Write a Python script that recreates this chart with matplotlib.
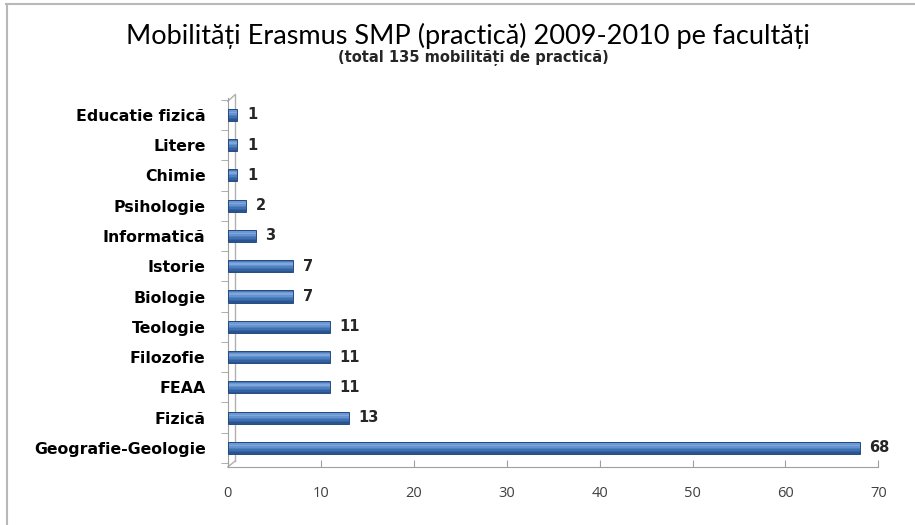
# Mobilitati Erasmus SMP (practica) 2009-2010 pe facultati
import matplotlib.pyplot as plt
from matplotlib.lines import Line2D
import numpy as np

facultati = ['Geografie-Geologie', 'Fizică', 'FEAA', 'Filozofie', 'Teologie',
             'Biologie', 'Istorie', 'Informatică', 'Psihologie', 'Chimie',
             'Litere', 'Educatie fizică']
mobilitati = [68, 13, 11, 11, 11, 7, 7, 3, 2, 1, 1, 1]
x_ticks = [0, 10, 20, 30, 40, 50, 60, 70]

fig = plt.figure(figsize=(9.15, 5.25), dpi=100)
ax = fig.add_axes([0.249, 0.1105, 0.711, 0.7025])

pos = np.arange(len(facultati))
bar_h = 0.4
# gradient bars (light at top, dark at bottom) for the cylinder look
grad = ['#2a5391', '#34619f', '#3f70b0', '#4f80c0', '#6693d0', '#7fa7dc', '#6b98d2', '#4a7bbd']
n = len(grad)
for i, c in enumerate(grad):
    ax.barh(pos - bar_h / 2 + (i + 0.5) * bar_h / n, mobilitati, height=bar_h / n,
            color=c, linewidth=0, zorder=3)
ax.barh(pos, mobilitati, height=bar_h, fill=False, edgecolor='#244a80', linewidth=0.7, zorder=4)

for p, v in zip(pos, mobilitati):
    ax.annotate(str(v), (v, p), xytext=(7, 0), textcoords='offset points',
                va='center', ha='left', fontsize=10.5, fontweight='bold',
                color='#262626', family='DejaVu Sans')

ax.set_xlim(0, 70)
ax.set_ylim(-0.63, 11.55)
ax.set_yticks(pos)
ax.set_yticklabels(facultati, fontsize=11.3, fontweight='bold', family='DejaVu Sans')
ax.set_yticks([p + 0.5 for p in range(-1, len(facultati))], minor=True)
ax.tick_params(axis='y', which='major', length=0, pad=16)
ax.tick_params(axis='y', which='minor', length=5, color='#a0a0a0', direction='out')
ax.set_xticks(x_ticks)
ax.set_xticklabels([str(t) for t in x_ticks], fontsize=10.5, color='#404040', family='Open Sans')
ax.tick_params(axis='x', length=5, color='#a0a0a0', direction='in', pad=14)

for s in ['top', 'right']:
    ax.spines[s].set_visible(False)
for s in ['left', 'bottom']:
    ax.spines[s].set_color('#a0a0a0')

# 3D back wall
dx, dy = 0.8, 0.2
ax.plot([dx, dx], [-0.63 + dy, 11.55 + dy * 0.6], color='#b0b0b0', lw=1, clip_on=False, zorder=2)
ax.plot([0, dx], [11.45, 11.55 + dy * 0.6], color='#b0b0b0', lw=1, clip_on=False, zorder=2)
ax.plot([0, dx], [-0.63, -0.63 + dy], color='#b0b0b0', lw=1, clip_on=False, zorder=2)

fig.text(0.511, 0.932, 'Mobilități Erasmus SMP (practică) 2009-2010 pe facultăți',
         ha='center', va='center', fontsize=19.5, family='Lato')
fig.text(0.517, 0.889, '(total 135 mobilități de practică)',
         ha='center', va='center', fontsize=10.5, fontweight='bold', color='#262626', family='DejaVu Sans')

# chart frame
fig.add_artist(Line2D([0.007, 1.0], [0.993, 0.993], color='#b8b8b8', lw=1.5))
fig.add_artist(Line2D([0.008, 0.008], [0.0, 0.993], color='#b8b8b8', lw=1.5))

fig.savefig('out.png', dpi=100)
